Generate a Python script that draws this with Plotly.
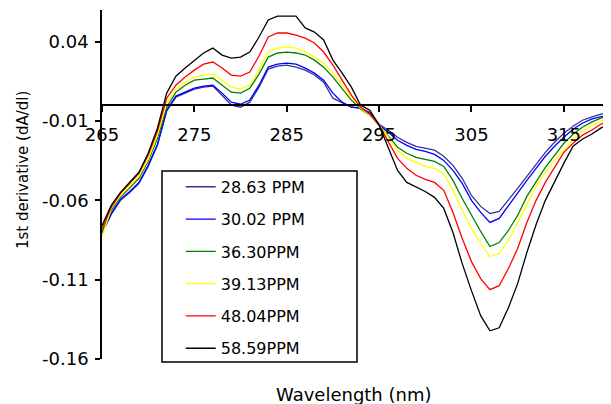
import plotly.graph_objects as go

wavelength = list(range(265, 321))

ppm_28_63 = [-0.0809, -0.0689, -0.0600, -0.0550, -0.0493, -0.0386, -0.0253, -0.0038, 0.0051, 0.0076,
             0.0101, 0.0114, 0.0120, 0.0063, 0.0000, -0.0013, 0.0019, 0.0114, 0.0228, 0.0246,
             0.0253, 0.0240, 0.0221, 0.0190, 0.0145, 0.0044, 0.0013, -0.0013, -0.0019, -0.0044,
             -0.0120, -0.0158, -0.0202, -0.0234, -0.0259, -0.0272, -0.0284, -0.0322, -0.0379, -0.0461,
             -0.0569, -0.0638, -0.0683, -0.0670, -0.0600, -0.0525, -0.0449, -0.0373, -0.0297, -0.0234,
             -0.0177, -0.0133, -0.0095, -0.0076, -0.0057, -0.0044]
ppm_30_02 = [-0.0803, -0.0683, -0.0594, -0.0544, -0.0487, -0.0379, -0.0246, -0.0032, 0.0057, 0.0082,
             0.0107, 0.0120, 0.0126, 0.0076, 0.0019, 0.0006, 0.0032, 0.0126, 0.0240, 0.0259,
             0.0265, 0.0259, 0.0234, 0.0202, 0.0158, 0.0076, 0.0019, -0.0013, -0.0019, -0.0051,
             -0.0126, -0.0171, -0.0221, -0.0253, -0.0278, -0.0291, -0.0310, -0.0348, -0.0411, -0.0493,
             -0.0600, -0.0676, -0.0739, -0.0714, -0.0632, -0.0550, -0.0474, -0.0398, -0.0322, -0.0259,
             -0.0202, -0.0152, -0.0114, -0.0088, -0.0070, -0.0057]
ppm_36_30 = [-0.0796, -0.0664, -0.0581, -0.0518, -0.0461, -0.0354, -0.0209, -0.0013, 0.0082, 0.0126,
             0.0158, 0.0164, 0.0171, 0.0126, 0.0082, 0.0076, 0.0107, 0.0196, 0.0303, 0.0329,
             0.0335, 0.0329, 0.0316, 0.0284, 0.0240, 0.0177, 0.0107, 0.0032, -0.0025, -0.0063,
             -0.0126, -0.0196, -0.0265, -0.0303, -0.0329, -0.0341, -0.0354, -0.0386, -0.0474, -0.0588,
             -0.0695, -0.0796, -0.0891, -0.0866, -0.0790, -0.0695, -0.0575, -0.0480, -0.0392, -0.0316,
             -0.0240, -0.0183, -0.0139, -0.0107, -0.0082, -0.0063]
ppm_39_13 = [-0.0828, -0.0651, -0.0569, -0.0506, -0.0449, -0.0341, -0.0190, 0.0013, 0.0101, 0.0145,
             0.0177, 0.0190, 0.0196, 0.0158, 0.0114, 0.0101, 0.0126, 0.0221, 0.0335, 0.0360,
             0.0367, 0.0360, 0.0335, 0.0303, 0.0265, 0.0202, 0.0126, 0.0051, -0.0019, -0.0063,
             -0.0126, -0.0202, -0.0284, -0.0335, -0.0360, -0.0386, -0.0398, -0.0430, -0.0537, -0.0664,
             -0.0777, -0.0872, -0.0954, -0.0935, -0.0853, -0.0739, -0.0626, -0.0512, -0.0423, -0.0348,
             -0.0284, -0.0215, -0.0164, -0.0133, -0.0101, -0.0076]
ppm_48_04 = [-0.0777, -0.0645, -0.0556, -0.0493, -0.0430, -0.0316, -0.0164, 0.0044, 0.0126, 0.0177,
             0.0221, 0.0259, 0.0272, 0.0234, 0.0190, 0.0183, 0.0209, 0.0310, 0.0430, 0.0455,
             0.0455, 0.0442, 0.0423, 0.0392, 0.0335, 0.0253, 0.0158, 0.0063, -0.0013, -0.0057,
             -0.0126, -0.0234, -0.0335, -0.0398, -0.0442, -0.0468, -0.0487, -0.0537, -0.0676, -0.0841,
             -0.0986, -0.1093, -0.1163, -0.1138, -0.1030, -0.0904, -0.0739, -0.0600, -0.0487, -0.0392,
             -0.0297, -0.0240, -0.0190, -0.0158, -0.0120, -0.0095]
ppm_58_59 = [-0.0758, -0.0632, -0.0550, -0.0487, -0.0423, -0.0303, -0.0145, 0.0076, 0.0183, 0.0234,
             0.0284, 0.0329, 0.0360, 0.0316, 0.0297, 0.0303, 0.0335, 0.0430, 0.0537, 0.0562,
             0.0562, 0.0562, 0.0487, 0.0461, 0.0411, 0.0284, 0.0202, 0.0114, 0.0000, -0.0032,
             -0.0126, -0.0272, -0.0411, -0.0487, -0.0518, -0.0544, -0.0581, -0.0651, -0.0803, -0.0999,
             -0.1169, -0.1327, -0.1422, -0.1403, -0.1277, -0.1125, -0.0929, -0.0752, -0.0600, -0.0480,
             -0.0367, -0.0259, -0.0215, -0.0183, -0.0145, -0.0114]

series_names = ["28.63 PPM", "30.02 PPM", "36.30PPM", "39.13PPM", "48.04PPM", "58.59PPM"]
series_values = [ppm_28_63, ppm_30_02, ppm_36_30, ppm_39_13, ppm_48_04, ppm_58_59]
series_colors = ["#333399", "#0000FF", "#008000", "#FFFF00", "#FF0000", "#000000"]

y_tick_values = [-0.16, -0.11, -0.06, -0.01, 0.04]
y_tick_labels = ["-0.16", "-0.11", "-0.06", "-0.01", "0.04"]
x_tick_values = [265, 275, 285, 295, 305, 315]
x_tick_labels = ["265", "275", "285", "295", "305", "315"]

FONT = "DejaVu Sans"

fig = go.Figure()
for i, (name, vals, col) in enumerate(zip(series_names, series_values, series_colors)):
    fig.add_trace(go.Scatter(
        x=wavelength, y=vals, mode="lines", name=name,
        line=dict(color=col, width=1.3),
        legendgroup=f"g{i}",
    ))

# page body has an 8px margin, so the figure is 8px smaller and the plot
# area keeps its place on the page (x 102..610, y 10..359)
fig.update_layout(
    width=603, height=396,
    margin=dict(l=94, r=1, t=2, b=45),
    paper_bgcolor="white", plot_bgcolor="white",
    font=dict(family=FONT, size=18, color="#000000"),
    showlegend=True,
    legend=dict(
        x=0.155, y=0.542, xanchor="left", yanchor="top",
        bgcolor="rgba(0,0,0,0)", borderwidth=0,
        font=dict(family=FONT, size=16, color="#000000"),
        tracegroupgap=8.5, traceorder="grouped",
    ),
    xaxis=dict(
        range=[265, 320], anchor="free", position=0.16 / 0.22,
        showline=True, linecolor="#000000", linewidth=1.5,
        ticks="outside", ticklen=6, tickwidth=1.5, tickcolor="#000000",
        tickvals=x_tick_values, ticktext=x_tick_labels,
        ticklabelstandoff=7,
        showgrid=False, zeroline=False,
        tickfont=dict(family=FONT, size=18, color="#000000"),
    ),
    yaxis=dict(
        range=[-0.16, 0.06],
        showline=True, linecolor="#000000", linewidth=1.5,
        ticks="outside", ticklen=5, tickwidth=1.5, tickcolor="#000000",
        tickvals=y_tick_values, ticktext=y_tick_labels,
        ticklabelstandoff=3,
        showgrid=False, zeroline=False,
        tickfont=dict(family=FONT, size=18, color="#000000"),
    ),
    shapes=[dict(
        type="rect", xref="paper", yref="paper",
        x0=(162 - 102) / 508, x1=(357 - 102) / 508,
        y0=(359 - 362) / 349, y1=(359 - 171) / 349,
        line=dict(color="#000000", width=1.5), fillcolor="rgba(0,0,0,0)",
    )],
    annotations=[
        dict(text="Wavelength (nm)", xref="paper", yref="paper",
             x=0.497, y=(359 - 394) / 349, xanchor="center", yanchor="middle",
             showarrow=False, font=dict(family=FONT, size=18, color="#000000")),
        dict(text="1st derivative (dA/dl)", xref="paper", yref="paper",
             x=(23 - 102) / 508, y=(359 - 170) / 349, xanchor="center", yanchor="middle",
             textangle=-90, showarrow=False,
             font=dict(family=FONT, size=15, color="#000000")),
    ],
)

fig.write_html("out.html")
